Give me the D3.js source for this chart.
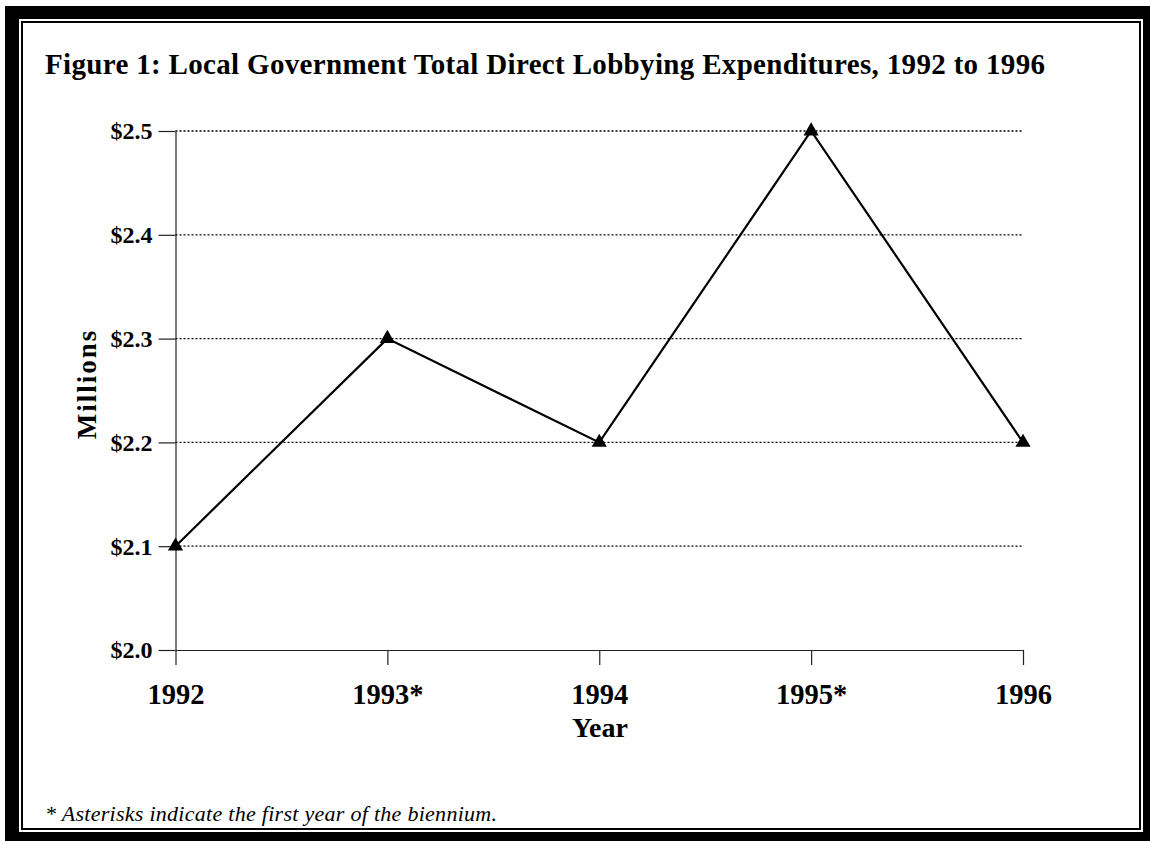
<!DOCTYPE html>
<html>
<head>
<meta charset="utf-8">
<script src="https://cdn.jsdelivr.net/npm/d3@7"></script>
<style>
    body { margin: 0; background: #fff; }
    svg text { font-family: "Liberation Serif", "Times New Roman", serif; fill: #000; }
</style>
</head>
<body>
<svg id="chart" width="1150" height="841"></svg>
<script>
// data
const years= ["1992", "1993*", "1994", "1995*", "1996"]
const spending= [2.1, 2.3, 2.2, 2.5, 2.2]
const y_ticks= [2.0, 2.1, 2.2, 2.3, 2.4, 2.5]

const title_text= "Figure 1: Local Government Total Direct Lobbying Expenditures, 1992 to 1996"
const x_label= "Year"
const y_label= "Millions"
const note_text= "* Asterisks indicate the first year of the biennium."

const svg= d3.select("#chart")

// frame (thick outer border, thin inner line)
let frames= [
    {x:5, y:6, w:1145, h:835, fill:"#000"},
    {x:19, y:19, w:1124, h:813, fill:"#fff"},
    {x:21, y:21, w:1120, h:809, fill:"#000"},
    {x:23, y:23, w:1116, h:805, fill:"#fff"},
]
svg.selectAll("rect.frame")
    .data(frames)
    .join("rect")
    .attr("class", "frame")
    .attr("x", d => d.x).attr("y", d => d.y)
    .attr("width", d => d.w).attr("height", d => d.h)
    .attr("fill", d => d.fill)

// scales
const x= d3.scalePoint().domain(years).range([175.5, 1023])
const y= d3.scaleLinear().domain([2.0, 2.5]).range([650, 131])

// gridlines
svg.append("g")
    .selectAll("line")
    .data(y_ticks.filter(d => d > 2.0))
    .join("line")
    .attr("x1", x.range()[0]).attr("x2", x.range()[1])
    .attr("y1", d => y(d)).attr("y2", d => y(d))
    .attr("stroke", "#000")
    .attr("stroke-width", 1.3)
    .attr("stroke-dasharray", "2,2")

// y axis
let y_axis= svg.append("g")
    .attr("transform", `translate(${x.range()[0]},0)`)
    .call(d3.axisLeft(y)
        .tickValues(y_ticks)
        .tickFormat(d => "$" + d3.format(".1f")(d))
        .tickSize(17).tickSizeOuter(0).tickPadding(6))
y_axis.selectAll("path, line").attr("stroke", "#222").attr("stroke-width", 1.2)
y_axis.selectAll("text")
    .attr("font-size", 24).attr("font-weight", "bold")
    .attr("dy", "0.33em")

// x axis
let x_axis= svg.append("g")
    .attr("transform", `translate(0,${y.range()[0]})`)
    .call(d3.axisBottom(x).tickSize(15).tickSizeOuter(0).tickPadding(18.5))
x_axis.selectAll("path, line").attr("stroke", "#222").attr("stroke-width", 1.2)
x_axis.selectAll("text")
    .attr("font-size", 28.5).attr("font-weight", "bold")
    .attr("dy", "0.71em")
svg.selectAll(".domain").attr("fill", "none")

// series line
svg.append("path")
    .datum(spending)
    .attr("fill", "none")
    .attr("stroke", "#000")
    .attr("stroke-width", 2.2)
    .attr("stroke-linejoin", "miter")
    .attr("d", d3.line()
        .x((d, i) => x(years[i]))
        .y(d => y(d)))

// triangle markers
svg.append("g")
    .selectAll("path")
    .data(spending)
    .join("path")
    .attr("transform", (d, i) => `translate(${x(years[i])},${y(d)})`)
    .attr("d", d3.symbol(d3.symbolTriangle, 100))
    .attr("fill", "#000")

// titles
svg.append("text")
    .attr("x", 45).attr("y", 74)
    .attr("font-size", 29).attr("font-weight", "bold")
    .attr("textLength", 1000).attr("lengthAdjust", "spacing")
    .text(title_text)

svg.append("text")
    .attr("x", 600).attr("y", 737)
    .attr("text-anchor", "middle")
    .attr("font-size", 28).attr("font-weight", "bold")
    .text(x_label)

svg.append("text")
    .attr("transform", "translate(96,384) rotate(-90)")
    .attr("text-anchor", "middle")
    .attr("font-size", 27).attr("font-weight", "bold")
    .attr("letter-spacing", 2)
    .text(y_label)

// footnote
svg.append("text")
    .attr("x", 45).attr("y", 821)
    .attr("font-size", 22).attr("font-style", "italic")
    .attr("textLength", 452).attr("lengthAdjust", "spacing")
    .text(note_text)
</script>
</body>
</html>
